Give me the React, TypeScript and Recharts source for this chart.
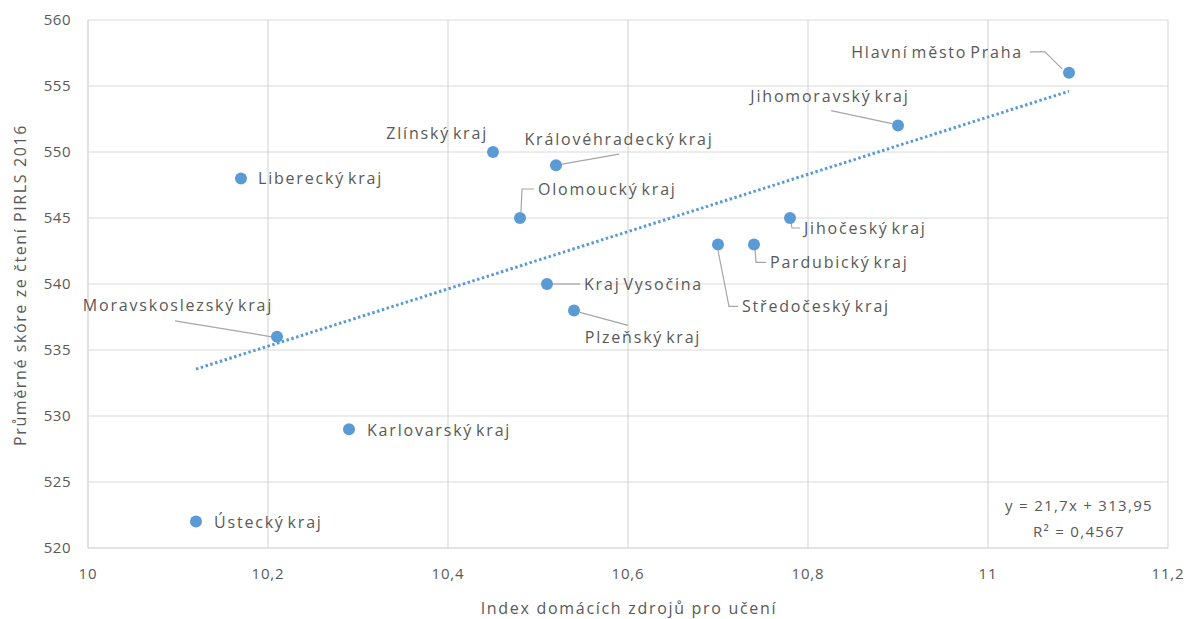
import { ScatterChart, Scatter, XAxis, YAxis, CartesianGrid, Customized } from 'recharts'

const regions = [
  'Hlavní město Praha',
  'Jihomoravský kraj',
  'Zlínský kraj',
  'Královéhradecký kraj',
  'Liberecký kraj',
  'Olomoucký kraj',
  'Jihočeský kraj',
  'Pardubický kraj',
  'Středočeský kraj',
  'Kraj Vysočina',
  'Plzeňský kraj',
  'Moravskoslezský kraj',
  'Karlovarský kraj',
  'Ústecký kraj',
]
const resourceIndex = [11.09, 10.9, 10.45, 10.52, 10.17, 10.48, 10.78, 10.74, 10.7, 10.51, 10.54, 10.21, 10.29, 10.12]
const pirlsScore = [556, 552, 550, 549, 548, 545, 545, 543, 543, 540, 538, 536, 529, 522]

const xTicks = [10, 10.2, 10.4, 10.6, 10.8, 11, 11.2]
const yTicks = [520, 525, 530, 535, 540, 545, 550, 555, 560]

// linear trend from the chart
const slope = 21.7
const intercept = 313.95
const r2 = '0,4567'

const points = regions.map((name, i) => ({ name, x: resourceIndex[i], y: pirlsScore[i] }))
const minX = Math.min(...resourceIndex)
const maxX = Math.max(...resourceIndex)
const trend = [
  { x: minX, y: slope * minX + intercept },
  { x: maxX, y: slope * maxX + intercept },
]

// label placement, relative to the point (px)
type Place = { dx: number; dy: number; anchor: 'start' | 'middle' | 'end'; leader?: number[][] }
const placement: Record<string, Place> = {
  'Hlavní město Praha': { dx: -46, dy: -21, anchor: 'end', leader: [[-39, -21], [-24, -21], [-7, -4]] },
  'Jihomoravský kraj': { dx: -68, dy: -30, anchor: 'middle', leader: [[-67, -15], [-6, -2]] },
  'Zlínský kraj': { dx: -5, dy: -19, anchor: 'end' },
  'Královéhradecký kraj': { dx: 63, dy: -26, anchor: 'middle', leader: [[63, -11], [6, -1]] },
  'Liberecký kraj': { dx: 17, dy: 0, anchor: 'start' },
  'Olomoucký kraj': { dx: 18, dy: -29, anchor: 'start', leader: [[1, -6], [2, -29], [14, -29]] },
  'Jihočeský kraj': { dx: 14, dy: 10, anchor: 'start', leader: [[1, 5], [2, 10], [10, 10]] },
  'Pardubický kraj': { dx: 16, dy: 18, anchor: 'start', leader: [[1, 5], [2, 18], [12, 18]] },
  'Středočeský kraj': { dx: 24, dy: 62, anchor: 'start', leader: [[0, 6], [11, 62], [20, 62]] },
  'Kraj Vysočina': { dx: 37, dy: 0, anchor: 'start', leader: [[6, 0], [33, 0]] },
  'Plzeňský kraj': { dx: 69, dy: 27, anchor: 'middle', leader: [[6, 2], [54, 15]] },
  'Moravskoslezský kraj': { dx: -99, dy: -32, anchor: 'middle', leader: [[-102, -16], [-5, 0]] },
  'Karlovarský kraj': { dx: 18, dy: 1, anchor: 'start' },
  'Ústecký kraj': { dx: 18, dy: 0, anchor: 'start' },
}

const FONT = '"Open Sans", sans-serif'
const TEXT = '#595959'
const BLUE = '#5b9bd5'

const fmt = (v: number) => String(v).replace('.', ',')

const PointShape = (props: any) => {
  const { cx, cy, payload } = props
  const p = placement[payload.name]
  return (
    <g>
      {p.leader && (
        <polyline
          points={p.leader.map(([a, b]) => `${cx + a},${cy + b}`).join(' ')}
          fill="none"
          stroke="#a6a6a6"
          strokeWidth={1.2}
        />
      )}
      <circle cx={cx} cy={cy} r={6} fill={BLUE} />
      <text
        x={cx + p.dx}
        y={cy + p.dy}
        textAnchor={p.anchor}
        dominantBaseline="central"
        fontFamily={FONT}
        fontSize={16}
        letterSpacing={1.8}
        wordSpacing={-3}
        fill={TEXT}
      >
        {payload.name}
      </text>
    </g>
  )
}

const Extras = () => (
  <g fontFamily={FONT} fill={TEXT}>
    <text x={20} y={285} transform="rotate(-90 20 285)" textAnchor="middle" dominantBaseline="central" fontSize={16} letterSpacing={1.6}>
      Průměrné skóre ze čtení PIRLS 2016
    </text>
    <text x={629} y={608} textAnchor="middle" dominantBaseline="central" fontSize={16} letterSpacing={1.7}>
      Index domácích zdrojů pro učení
    </text>
    <text x={1079} y={505} textAnchor="middle" dominantBaseline="central" fontSize={15} letterSpacing={1.3}>
      {`y = ${fmt(slope)}x + ${fmt(intercept)}`}
    </text>
    <text x={1079} y={531} textAnchor="middle" dominantBaseline="central" fontSize={15} letterSpacing={1.3}>
      {`R² = ${r2}`}
    </text>
  </g>
)

export default function App() {
  return (
    <div style={{ position: 'absolute', left: 0, top: 0 }}>
      <ScatterChart width={1189} height={619} margin={{ top: 20, right: 21, bottom: 0, left: 0 }}>
        <CartesianGrid stroke="#d9d9d9" strokeWidth={1.2} />
        <XAxis
          type="number"
          dataKey="x"
          domain={[10, 11.2]}
          ticks={xTicks}
          tickFormatter={fmt}
          height={71}
          axisLine={{ stroke: '#d9d9d9' }}
          tickLine={false}
          tickSize={0}
          tickMargin={20}
          tick={{ fill: TEXT, fontSize: 15, fontFamily: FONT, letterSpacing: 0.8 }}
        />
        <YAxis
          type="number"
          dataKey="y"
          domain={[520, 560]}
          ticks={yTicks}
          width={88}
          axisLine={{ stroke: '#d9d9d9' }}
          tickLine={false}
          tickSize={0}
          tickMargin={17}
          tick={{ fill: TEXT, fontSize: 15, fontFamily: FONT, letterSpacing: 0.5 }}
        />
        <Scatter
          data={trend}
          line={{ stroke: BLUE, strokeWidth: 3, strokeDasharray: '2.5 2.5' }}
          shape={() => <g />}
          isAnimationActive={false}
        />
        <Scatter data={points} shape={PointShape} isAnimationActive={false} />
        <Customized component={Extras} />
      </ScatterChart>
    </div>
  )
}
